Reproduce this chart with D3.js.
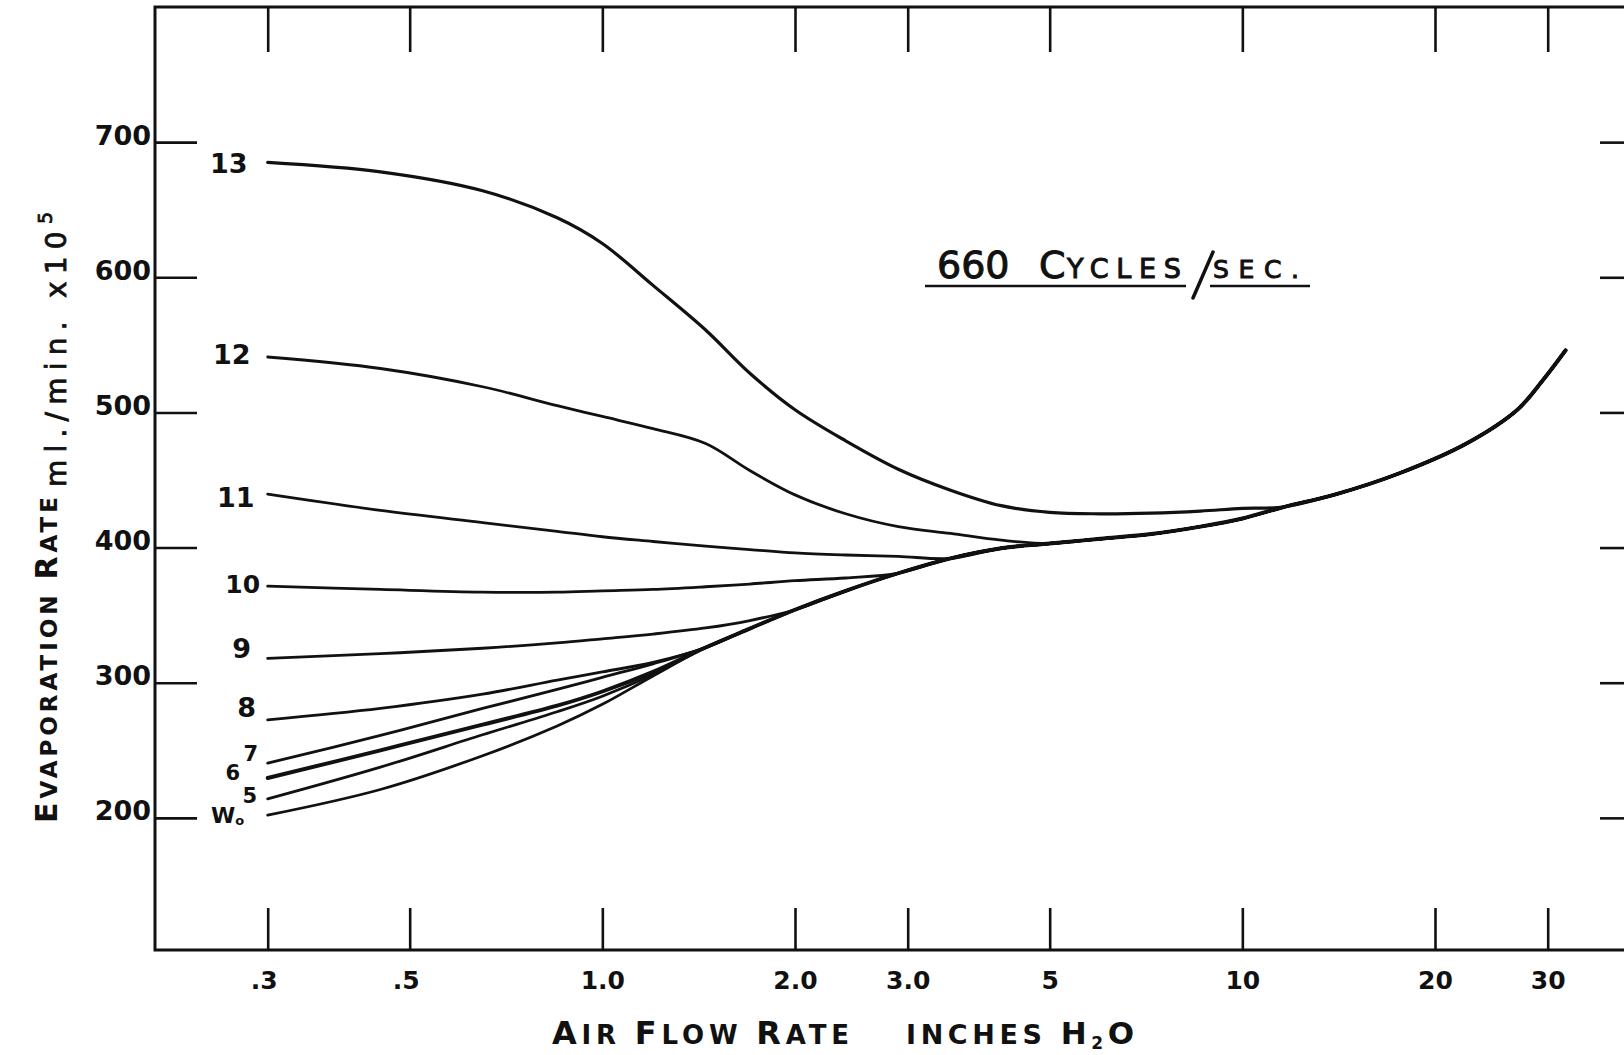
<!DOCTYPE html>
<html>
<head>
<meta charset="utf-8">
<script src="https://cdn.jsdelivr.net/npm/d3@7"></script>
<style>
  html, body { margin: 0; padding: 0; background: #fff; }
  svg { display: block; }
  text { font-family: "DejaVu Sans", "Liberation Sans", sans-serif; fill: #111; }
</style>
</head>
<body>
<svg id="chart" width="1624" height="1055"></svg>
<script>
// Air flow rate (inches H2O) at which each curve is sampled
const airFlow = [0.3, 0.45, 0.65, 0.85, 1.0, 1.2, 1.45, 1.7, 2.0, 2.4, 2.9, 3.5, 4.2, 5.0, 6.0, 7.2, 8.6, 10, 11.6, 13.9, 17.6, 22.4, 26.9, 29.5, 32];

// Evaporation rate (ml./min. x 10^5), one list per curve
const rate13 = [685, 678, 664, 644, 625, 594, 561, 529, 502, 479, 458, 442.5, 431, 426, 425, 425.5, 427, 429, 430, 439, 455, 477, 502, 524, 546];
const rate12 = [541, 532.5, 519, 505, 497, 488, 477, 457, 439, 425, 415.5, 410.5, 405.5, 403, 406.5, 410, 415.5, 421.5, 430, 439, 455, 477, 502, 524, 546];
const rate11 = [439.5, 427.5, 418.5, 412, 408, 404.5, 401, 398.5, 396, 394.5, 393.5, 392, 399.5, 403, 406.5, 410, 415.5, 421.5, 430, 439, 455, 477, 502, 524, 546];
const rate10 = [371.5, 369, 367, 367, 368, 369, 371, 373, 375.5, 377.5, 381, 392, 399.5, 403, 406.5, 410, 415.5, 421.5, 430, 439, 455, 477, 502, 524, 546];
const rate9  = [318, 321.5, 325.5, 329.5, 332.5, 336, 340.5, 346, 354, 368, 381, 392, 399.5, 403, 406.5, 410, 415.5, 421.5, 430, 439, 455, 477, 502, 524, 546];
const rate8  = [272.5, 281, 291.5, 302, 308, 315, 326, 340, 354, 368, 381, 392, 399.5, 403, 406.5, 410, 415.5, 421.5, 430, 439, 455, 477, 502, 524, 546];
const rate7  = [240.5, 261, 281, 295, 304, 314, 326, 340, 354, 368, 381, 392, 399.5, 403, 406.5, 410, 415.5, 421.5, 430, 439, 455, 477, 502, 524, 546];
const rate6  = [229.5, 250, 269, 283, 293.5, 308, 326, 340, 354, 368, 381, 392, 399.5, 403, 406.5, 410, 415.5, 421.5, 430, 439, 455, 477, 502, 524, 546];
const rate5  = [214, 237.5, 261.5, 278.5, 290, 306, 326, 340, 354, 368, 381, 392, 399.5, 403, 406.5, 410, 415.5, 421.5, 430, 439, 455, 477, 502, 524, 546];
const rateW0 = [202, 221, 246, 268, 284, 305, 326, 340, 354, 368, 381, 392, 399.5, 403, 406.5, 410, 415.5, 421.5, 430, 439, 455, 477, 502, 524, 546];

const curveNames = ["13", "12", "11", "10", "9", "8", "7", "6", "5", "W0"];
const curveRates = [rate13, rate12, rate11, rate10, rate9, rate8, rate7, rate6, rate5, rateW0];

const xTickValues = [0.3, 0.5, 1, 2, 3, 5, 10, 20, 30];
const xTickLabels = [".3", ".5", "1.0", "2.0", "3.0", "5", "10", "20", "30"];
const yTickValues = [200, 300, 400, 500, 600, 700];
const yTickLabels = ["200", "300", "400", "500", "600", "700"];

// ---- layout ----
const W = 1624, H = 1055;
const plot = { left: 155, top: 7, bottom: 950, right: 1624 };

const svg = d3.select("#chart");

const x = d3.scaleLog()
  .domain([0.2, 40])
  .range([plot.left, plot.left + 640 * Math.log10(200)]);
const y = d3.scaleLinear()
  .domain([100, 800])
  .range([953, 7]);

const ink = "#111";

// frame: top edge, left axis, bottom axis
svg.append("path")
  .attr("d", `M${W},${plot.top} H${plot.left} V${plot.bottom} H${W}`)
  .attr("fill", "none")
  .attr("stroke", ink)
  .attr("stroke-width", 3);

function styleAxis(g) {
  g.select(".domain").remove();
  g.selectAll(".tick line").attr("stroke", ink).attr("stroke-width", 2.6);
  g.selectAll(".tick text").attr("fill", ink);
}

// left axis: inward ticks, labels outside
const gLeft = svg.append("g")
  .attr("transform", `translate(${plot.left},0)`)
  .call(d3.axisLeft(y)
    .tickValues(yTickValues)
    .tickFormat((d, i) => yTickLabels[i])
    .tickSize(-42)
    .tickSizeOuter(0)
    .tickPadding(4))
  .call(styleAxis);
gLeft.selectAll(".tick text")
  .attr("dy", "2")
  .style("font-size", "27px")
  .style("font-weight", "bold")
  .style("font-family", "DejaVu Sans");

// right side: short inward ticks only
svg.append("g")
  .attr("transform", `translate(${W},0)`)
  .call(d3.axisRight(y)
    .tickValues(yTickValues)
    .tickFormat("")
    .tickSize(-24)
    .tickSizeOuter(0))
  .call(styleAxis);

// bottom axis
const gBottom = svg.append("g")
  .attr("transform", `translate(0,${plot.bottom})`)
  .call(d3.axisBottom(x)
    .tickValues(xTickValues)
    .tickFormat((d, i) => xTickLabels[i])
    .tickSize(-42)
    .tickSizeOuter(0))
  .call(styleAxis);
gBottom.selectAll(".tick text")
  .attr("y", 39)
  .attr("dy", "0")
  .attr("dx", (d, i) => xTickLabels[i].startsWith(".") ? -4 : 0)
  .style("font-size", "25px")
  .style("font-weight", "bold")
  .style("font-family", "DejaVu Sans");

// top edge ticks
svg.append("g")
  .attr("transform", `translate(0,${plot.top})`)
  .call(d3.axisTop(x)
    .tickValues(xTickValues)
    .tickFormat("")
    .tickSize(-45)
    .tickSizeOuter(0))
  .call(styleAxis);

// ---- curves ----
const line = d3.line()
  .x(d => x(d[0]))
  .y(d => y(d[1]))
  .curve(d3.curveCatmullRom.alpha(0.5));

const strokeFor = { "13": 3.2, "6": 3.9 };

curveNames.forEach((name, k) => {
  const pts = airFlow.map((a, i) => [a, curveRates[k][i]]);
  svg.append("path")
    .datum(pts)
    .attr("d", line)
    .attr("fill", "none")
    .attr("stroke", ink)
    .attr("stroke-width", strokeFor[name] || 2.8)
    .attr("stroke-linecap", "round")
    .attr("stroke-linejoin", "round");
});

// curve labels, placed just left of each curve's first point
const labelPlacement = {
  "13": { dx: -39, dy: 1, size: 27 },
  "12": { dx: -36, dy: -3, size: 27 },
  "11": { dx: -32, dy: 3, size: 27 },
  "10": { dx: -25, dy: -2, size: 25 },
  "9":  { dx: -26, dy: -10, size: 27 },
  "8":  { dx: -21, dy: -12, size: 27 },
  "7":  { dx: -17, dy: -9, size: 21 },
  "6":  { dx: -35, dy: -5, size: 21 },
  "5":  { dx: -18, dy: -3, size: 21 },
  "W0": { dx: -40, dy: 0, size: 22 }
};

curveNames.forEach((name, k) => {
  const p = labelPlacement[name];
  const t = svg.append("text")
    .attr("x", x(airFlow[0]) + p.dx)
    .attr("y", y(curveRates[k][0]) + p.dy)
    .attr("text-anchor", "middle")
    .attr("dominant-baseline", "central")
    .style("font-size", p.size + "px")
    .style("font-weight", "bold");
  if (name === "W0") {
    t.append("tspan").text("W");
    t.append("tspan").attr("dy", 5).style("font-size", "13px").text("o");
  } else {
    t.text(name);
  }
});

// ---- titles ----
// y axis title, rotated
const yTitle = svg.append("text")
  .attr("transform", "translate(57,823) rotate(-90)")
  .attr("textLength", 326)
  .attr("lengthAdjust", "spacing")
  .style("font-weight", "bold");
yTitle.append("tspan").style("font-size", "30px").text("E");
yTitle.append("tspan").style("font-size", "23px").text("VAPORATION ");
yTitle.append("tspan").style("font-size", "30px").text("R");
yTitle.append("tspan").style("font-size", "23px").text("ATE");

const yUnit = svg.append("text")
  .attr("transform", "translate(66,487) rotate(-90)")
  .attr("textLength", 275)
  .attr("lengthAdjust", "spacing")
  .attr("stroke", ink)
  .attr("stroke-width", 0.8);
yUnit.append("tspan").style("font-size", "28px").text("ml./min. x10");
yUnit.append("tspan").attr("dy", -14).style("font-size", "19px").text("5");

// x axis title
const xTitleA = svg.append("text")
  .attr("x", 552).attr("y", 1044)
  .attr("textLength", 297)
  .attr("lengthAdjust", "spacing")
  .style("font-weight", "bold");
xTitleA.append("tspan").style("font-size", "32px").text("A");
xTitleA.append("tspan").style("font-size", "26px").text("IR ");
xTitleA.append("tspan").style("font-size", "32px").text("F");
xTitleA.append("tspan").style("font-size", "26px").text("LOW ");
xTitleA.append("tspan").style("font-size", "32px").text("R");
xTitleA.append("tspan").style("font-size", "26px").text("ATE");

const xTitleB = svg.append("text")
  .attr("x", 906).attr("y", 1044)
  .attr("textLength", 228)
  .attr("lengthAdjust", "spacing")
  .style("font-weight", "bold");
xTitleB.append("tspan").style("font-size", "27px").text("INCHES ");
xTitleB.append("tspan").style("font-size", "31px").text("H");
xTitleB.append("tspan").attr("dy", 5).style("font-size", "17px").text("2");
xTitleB.append("tspan").attr("dy", -5).style("font-size", "31px").text("O");

// ---- frequency note ----
const noteStyle = t => t.attr("stroke", ink).attr("stroke-width", 1);
svg.append("text")
  .attr("x", 937).attr("y", 278)
  .style("font-size", "38px")
  .call(noteStyle)
  .text("660");
svg.append("text")
  .attr("x", 1039).attr("y", 278)
  .style("font-size", "38px")
  .call(noteStyle)
  .text("C");
svg.append("text")
  .attr("x", 1067).attr("y", 278)
  .attr("textLength", 114)
  .attr("lengthAdjust", "spacing")
  .style("font-size", "27px")
  .call(noteStyle)
  .text("YCLES");
svg.append("text")
  .attr("x", 1213).attr("y", 278)
  .attr("textLength", 86)
  .attr("lengthAdjust", "spacing")
  .style("font-size", "25px")
  .call(noteStyle)
  .text("SEC.");

svg.append("line")
  .attr("x1", 1213).attr("y1", 252).attr("x2", 1193).attr("y2", 298)
  .attr("stroke", ink).attr("stroke-width", 3.5).attr("stroke-linecap", "round");
svg.append("line")
  .attr("x1", 925).attr("y1", 286).attr("x2", 1186).attr("y2", 286)
  .attr("stroke", ink).attr("stroke-width", 2.5);
svg.append("line")
  .attr("x1", 1210).attr("y1", 286).attr("x2", 1310).attr("y2", 286)
  .attr("stroke", ink).attr("stroke-width", 2.5);
</script>
</body>
</html>
